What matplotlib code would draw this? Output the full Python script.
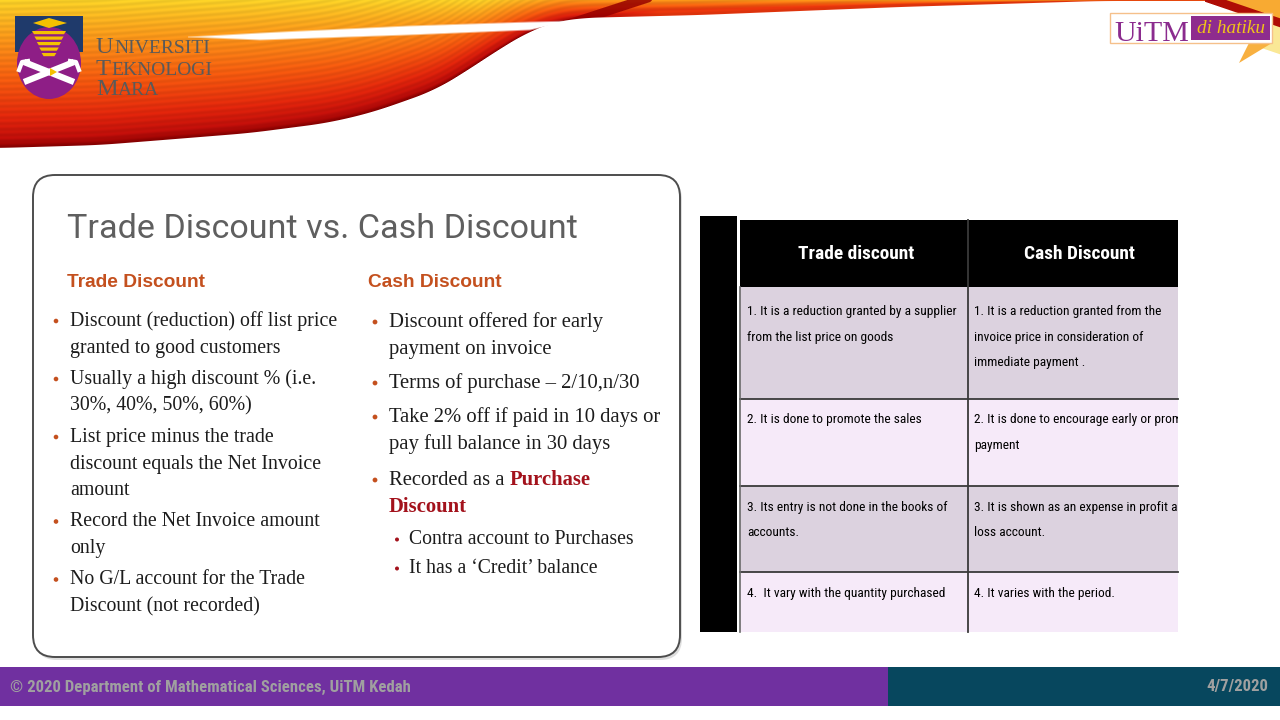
#!/usr/bin/env python3
from pathlib import Path

import matplotlib

matplotlib.use("Agg")
from matplotlib import font_manager
from matplotlib.font_manager import FontProperties
import matplotlib.pyplot as plt
from matplotlib.patches import Circle, Ellipse, FancyBboxPatch, Polygon, Rectangle
from matplotlib.transforms import Bbox
import numpy as np


W, H = 1280, 720

# ---- slide content -------------------------------------------------------
TITLE = "Trade Discount vs. Cash Discount"
LEFT_HEADING = "Trade Discount"
RIGHT_HEADING = "Cash Discount"

TRADE_BULLETS = [
    ["Discount (reduction) off list price", "granted to good customers"],
    ["Usually a high discount % (i.e.", "30%, 40%, 50%, 60%)"],
    ["List price minus the trade", "discount equals the Net Invoice", "amount"],
    ["Record the Net Invoice amount", "only"],
    ["No G/L account for the Trade", "Discount (not recorded)"],
]
CASH_BULLETS = [
    ["Discount offered for early", "payment on invoice"],
    ["Terms of purchase \u2013 2/10,n/30"],
    ["Take 2% off if paid in 10 days or", "pay full balance in 30 days"],
]
CASH_LEAD = "Recorded as a"
CASH_HIGHLIGHT = ["Purchase", "Discount"]
CASH_SUB_BULLETS = ["Contra account to Purchases", "It has a \u2018Credit\u2019 balance"]

TABLE_HEADER = ["Trade discount", "Cash Discount"]
TABLE_TRADE = [
    ["1. It is a reduction granted by a supplier", "from the list price on goods"],
    ["2. It is done to promote the sales"],
    ["3. Its entry is not done in the books of", "accounts."],
    ["4.  It vary with the quantity purchased"],
]
TABLE_CASH = [
    ["1. It is a reduction granted from the", "invoice price in consideration of", "immediate payment ."],
    ["2. It is done to encourage early or prompt", "payment"],
    ["3. It is shown as an expense in profit and", "loss account."],
    ["4. It varies with the period."],
]

FOOTER_TEXT = "\u00a9 2020 Department of Mathematical Sciences, UiTM Kedah"
FOOTER_DATE = "4/7/2020"
LOGO_LINES = ["UNIVERSITI", "TEKNOLOGI", "MARA"]
BADGE_MAIN = "UiTM"
BADGE_TAG = "di hatiku"

# ---- decoration geometry (pixels, y down) ---------------------------------
SWOOSH_EDGE_X = [0, 100, 163, 250, 327, 370, 408, 435, 457, 480, 506, 530, 555, 580,
                 620, 700, 800, 900, 1000, 1100]
SWOOSH_EDGE_Y = [148, 145, 140, 133, 123, 113, 100, 90, 77, 62, 45, 31, 22, 18,
                 17, 15, 11, 7, 4, 1]
WHITE_X = [188, 260, 408, 530, 572]
WHITE_UP = [37, 33, 26, 22, 21]
WHITE_LO = [37, 40, 35, 30, 21]

INK = "#1c1c1c"
ACCENT = "#C4501E"
DARK_RED = "#A3121C"
PURPLE = "#8E1E86"
NAVY = "#1F3A6B"
GOLD = "#F5C000"
ROW_DARK = "#DCD2DF"
ROW_LIGHT = "#F6EAF9"

AVAILABLE = {f.name for f in font_manager.fontManager.ttflist}


def pick(*names):
    for name in names:
        if name in AVAILABLE:
            return name
    return "DejaVu Sans"


def narrow_file(bold):
    keys = ["LiberationSansNarrow", "RobotoCondensed", "OpenSansCondensed",
            "OpenSans_Condensed", "DejaVuSansCondensed"]
    for key in keys:
        for f in font_manager.fontManager.ttflist:
            base = Path(f.fname).name
            if key not in base or "Italic" in base or "Oblique" in base:
                continue
            if ("Bold" in base) == bold:
                return f.fname
    return None


SANS = pick("Roboto", "Lato", "Liberation Sans")
ARIAL = pick("Liberation Sans", "Roboto")
SERIF = pick("Liberation Serif", "DejaVu Serif")
NARROW_FALLBACK = pick("Roboto", "Liberation Sans")


def fp(family=None, weight="normal", style="normal", narrow=False):
    if narrow:
        path = narrow_file(weight == "bold")
        if path:
            return FontProperties(fname=path)
        family = NARROW_FALLBACK
    return FontProperties(family=family, weight=weight, style=style)


fig = plt.figure(figsize=(W / 100, H / 100), dpi=100)
ax = fig.add_axes([0, 0, 1, 1])
ax.set_xlim(0, W)
ax.set_ylim(H, 0)
ax.axis("off")
renderer = fig.canvas.get_renderer()


def sized(prop, size):
    p = prop.copy()
    p.set_size(size)
    return p


def text_width(s, prop, size):
    t = ax.text(0, 0, s, fontproperties=sized(prop, size))
    w = t.get_window_extent(renderer).width
    t.remove()
    return w


def fit_size(s, width, prop):
    return 20 * width / text_width(s, prop, 20)


def put(x, y, s, prop, size, **kw):
    kw.setdefault("va", "baseline")
    kw.setdefault("zorder", 5)
    return ax.text(x, y, s, fontproperties=sized(prop, size), **kw)


def draw_swoosh():
    h = 170
    xs = np.arange(W) + 0.5
    low1 = np.interp(xs, SWOOSH_EDGE_X, SWOOSH_EDGE_Y)
    k = np.ones(41) / 41
    low1 = np.convolve(np.pad(low1, 20, mode="edge"), k, mode="valid")
    yy, xx = np.mgrid[0:h, 0:W].astype(float)
    yy += 0.5
    xx += 0.5
    low = np.broadcast_to(low1, yy.shape)
    shift = np.interp(xx, [0, 480, 560, W], [0, 0, 0.25, 0.25])
    d_max = np.interp(xx, [0, 580, 660, W], [1, 1, 0.72, 0.72])
    d = np.minimum(np.clip(yy / np.maximum(low, 0.5) * (1 - shift) + shift, 0, 1), d_max)
    stops = [0.0, 0.28, 0.55, 0.8, 0.94, 1.0]
    cols = np.array([[255, 214, 40], [255, 150, 25], [250, 92, 15],
                     [230, 38, 12], [195, 14, 10], [140, 0, 0]]) / 255
    rgb = np.stack([np.interp(d, stops, cols[:, c]) for c in range(3)], axis=-1)
    streak = 1 - 0.07 * (0.5 + 0.5 * np.sin((low - yy) * 1.1))
    rgb *= streak[..., None]
    alpha = np.clip(low - yy + 0.5, 0, 1)

    # dark diagonal streak climbing to the top edge
    ax_, ay_, bx_, by_ = 525.0, 38.0, 648.0, -2.0
    vx, vy = bx_ - ax_, by_ - ay_
    tpar = np.clip(((xx - ax_) * vx + (yy - ay_) * vy) / (vx * vx + vy * vy), 0, 1)
    dist = np.hypot(xx - (ax_ + tpar * vx), yy - (ay_ + tpar * vy))
    dm = np.clip(5 - dist, 0, 1)[..., None] * 0.85
    rgb = rgb * (1 - dm) + np.array([150, 0, 0]) / 255 * dm

    up = np.interp(xx, WHITE_X, WHITE_UP)
    lo = np.interp(xx, WHITE_X, WHITE_LO)
    inside = (xx > WHITE_X[0]) & (xx < WHITE_X[-1])
    m = (np.clip(np.minimum(yy - up, lo - yy) / 2.0 + 0.5, 0, 1) * inside)[..., None]
    rgb = rgb * (1 - m) + m

    s = yy - 0.34 * (xx - 1213)
    right = xx > 1205
    a_red = np.clip(5 - np.abs(s), 0, 1) * right
    a_up = np.clip(-s - 4, 0, 1) * right
    a_low = np.clip(s - 4, 0, 1) * np.clip(32 - s, 0, 1) * np.clip((xx - 1232) / 8, 0, 1)
    tot = a_red + a_up + a_low
    c_rgb = (np.array([175, 12, 5]) / 255 * a_red[..., None]
             + np.array([248, 170, 50]) / 255 * a_up[..., None]
             + np.array([250, 232, 150]) / 255 * a_low[..., None])
    mask = tot > 0
    rgb[mask] = c_rgb[mask] / tot[mask][:, None]
    alpha = np.maximum(alpha, np.clip(tot, 0, 1))

    img = np.concatenate([np.clip(rgb, 0, 1), alpha[..., None]], axis=-1)
    ax.imshow(img, extent=(0, W, h, 0), interpolation="bilinear", aspect="auto", zorder=0)


def draw_crest():
    ax.add_patch(Rectangle((15, 16), 68, 36, fc=NAVY, ec="none", zorder=3))
    ax.add_patch(Ellipse((49, 63), 64, 72, fc=PURPLE, ec="none", zorder=4))
    ax.add_patch(Polygon([(33, 23), (49, 18), (67, 23), (49, 28)], fc=GOLD, ec="none", zorder=5))
    for k in range(5):
        top = 31 + k * 5.5
        half = 17 - k * 2.4
        ax.add_patch(Polygon([(49 - half, top), (49 + half, top), (49 + half - 2, top + 3.2),
                              (49 - half + 2, top + 3.2)], fc=GOLD, ec="none", zorder=5))
    ax.plot([24, 74], [82, 62], color="white", lw=4.5, solid_capstyle="butt", zorder=5)
    ax.plot([24, 74], [62, 82], color="white", lw=4.5, solid_capstyle="butt", zorder=5)
    ax.plot([19, 22, 28], [70, 62, 61], color="white", lw=3, zorder=5)
    ax.plot([79, 76, 70], [70, 62, 61], color="white", lw=3, zorder=5)
    ax.add_patch(Polygon([(50, 68), (57, 72), (50, 76)], fc=GOLD, ec="none", zorder=6))

    # small-caps style wordmark: larger initial, smaller remainder
    serif = fp(SERIF)
    ratio = 0.8
    natural = (text_width(LOGO_LINES[0][0], serif, 20)
               + text_width(LOGO_LINES[0][1:], serif, 20 * ratio))
    big = 20 * 113 / natural
    small = big * ratio
    for line, base in zip(LOGO_LINES, [53, 75, 95]):
        put(96, base, line[0], serif, big, color="#5a5a5a")
        x_rest = 96 + text_width(line[0], serif, big) + 0.5
        put(x_rest, base, line[1:], serif, small, color="#5a5a5a")


def draw_badge():
    ax.add_patch(Polygon([(1239, 63), (1249, 43), (1272, 43)], fc="#F8B040", ec="none", zorder=4))
    ax.add_patch(Rectangle((1110, 13), 162, 30, fc="white", ec="#F5C08A", lw=1, zorder=5))
    serif = fp(SERIF)
    put(1114, 41, BADGE_MAIN, serif, fit_size(BADGE_MAIN, 75, serif), color="#8B2B8E", zorder=6)
    ax.add_patch(Rectangle((1191, 16), 79, 24, fc="#8E2C8E", ec="none", zorder=6))
    ital = fp(SERIF, style="italic")
    put(1231, 28.5, BADGE_TAG, ital, fit_size(BADGE_TAG, 68, ital), color="#F0C419",
        ha="center", va="center", zorder=7)


def draw_text_box():
    box = dict(boxstyle="round,pad=0,rounding_size=22")
    ax.add_patch(FancyBboxPatch((35, 178), 647, 482, fc="#c8c8c8", ec="none",
                                alpha=0.6, zorder=2, **box))
    ax.add_patch(FancyBboxPatch((33, 175), 647, 482, fc="white", ec="#4d4d4d",
                                lw=1.4, zorder=3, **box))

    title = fp(SANS)
    put(67, 238, TITLE, title, fit_size(TITLE, 510, title), color="#5f5f5f")

    head = fp(ARIAL, weight="bold")
    size = fit_size(LEFT_HEADING, 138, head)
    put(67, 287, LEFT_HEADING, head, size, color=ACCENT)
    put(368, 287, RIGHT_HEADING, head, size, color=ACCENT)

    serif = fp(SERIF)
    serif_bold = fp(SERIF, weight="bold")

    # left column
    size = fit_size(TRADE_BULLETS[0][0], 266, serif)
    y = 326
    for bullet in TRADE_BULLETS:
        ax.add_patch(Circle((56, y - 5), 2.3, fc=ACCENT, ec="none", zorder=4))
        for j, line in enumerate(bullet):
            put(70, y, line, serif, size, color=INK)
            if j < len(bullet) - 1:
                y += 26.5
        y += 31.5

    # right column
    size = fit_size(CASH_BULLETS[2][0], 273, serif)
    y = 327
    for bullet in CASH_BULLETS:
        ax.add_patch(Circle((375, y - 5), 2.4, fc=ACCENT, ec="none", zorder=4))
        for j, line in enumerate(bullet):
            put(389, y, line, serif, size, color=INK)
            if j < len(bullet) - 1:
                y += 27
        y += 34
    y = 485
    ax.add_patch(Circle((375, y - 5), 2.4, fc=ACCENT, ec="none", zorder=4))
    put(389, y, CASH_LEAD, serif, size, color=INK)
    space = text_width("a a", serif, size) - text_width("aa", serif, size)
    x_hi = 389 + text_width(CASH_LEAD, serif, size) + space
    put(x_hi, y, CASH_HIGHLIGHT[0], serif_bold, size, color=DARK_RED)
    put(389, y + 27, CASH_HIGHLIGHT[1], serif_bold, size, color=DARK_RED)

    sub = fit_size(CASH_SUB_BULLETS[0], 224, serif)
    for line, base in zip(CASH_SUB_BULLETS, [544, 573]):
        ax.add_patch(Circle((397, base - 4.5), 2.0, fc=DARK_RED, ec="none", zorder=4))
        put(409, base, line, serif, sub, color=INK)


def draw_table():
    x0, xm, x1 = 740, 968, 1178
    edges = [220, 287, 399, 486, 572, 632]
    ax.add_patch(Rectangle((700, 216), 37, 416, fc="black", ec="none", zorder=3))
    ax.add_patch(Rectangle((x0, edges[0]), x1 - x0, edges[1] - edges[0], fc="black",
                           ec="none", zorder=3))
    for i in range(4):
        fc = ROW_DARK if i % 2 == 0 else ROW_LIGHT
        ax.add_patch(Rectangle((x0, edges[i + 1]), x1 - x0, edges[i + 2] - edges[i + 1],
                               fc=fc, ec="none", zorder=3))
    for yv in edges[2:-1]:
        ax.plot([x0, x1], [yv, yv], color="#3a3a3a", lw=1.3, zorder=4)
    ax.plot([xm, xm], [edges[0], edges[-1]], color="#3a3a3a", lw=1.3, zorder=4)
    ax.plot([x0, x0], [edges[1], edges[-1]], color="#6a6a6a", lw=1.2, zorder=4)

    p0 = ax.transData.transform((x0, edges[-1]))
    p1 = ax.transData.transform((x1, edges[0]))
    clip = Bbox([[min(p0[0], p1[0]), min(p0[1], p1[1])], [max(p0[0], p1[0]), max(p0[1], p1[1])]])

    head = fp(weight="bold", narrow=True)
    hsize = fit_size(TABLE_HEADER[0], 116, head)
    for label, cx in zip(TABLE_HEADER, [856, 1079]):
        put(cx, 259, label, head, hsize, color="white", ha="center")

    cell = fp(narrow=True)
    csize = fit_size(TABLE_TRADE[0][0], 208, cell)
    first_base = [315, 423, 511, 597]
    for col_x, column in zip([747, 974], [TABLE_TRADE, TABLE_CASH]):
        for base, rows in zip(first_base, column):
            for j, line in enumerate(rows):
                t = put(col_x, base + j * 25.5, line, cell, csize, color="black")
                t.set_clip_box(clip)
                t.set_clip_on(True)


def draw_footer():
    ax.add_patch(Rectangle((0, 667), 888, 39, fc="#7030A0", ec="none", zorder=3))
    ax.add_patch(Rectangle((888, 667), W - 888, 39, fc="#07475E", ec="none", zorder=3))
    foot = fp(weight="bold", narrow=True)
    size = fit_size(FOOTER_TEXT, 398, foot)
    put(10, 687, FOOTER_TEXT, foot, size, color="#A0A0A0", va="center")
    put(1268, 687, FOOTER_DATE, foot, size, color="#A0A0A0", ha="right", va="center")


draw_swoosh()
draw_crest()
draw_badge()
draw_text_box()
draw_table()
draw_footer()

fig.savefig("out.png", dpi=100, facecolor="white")
